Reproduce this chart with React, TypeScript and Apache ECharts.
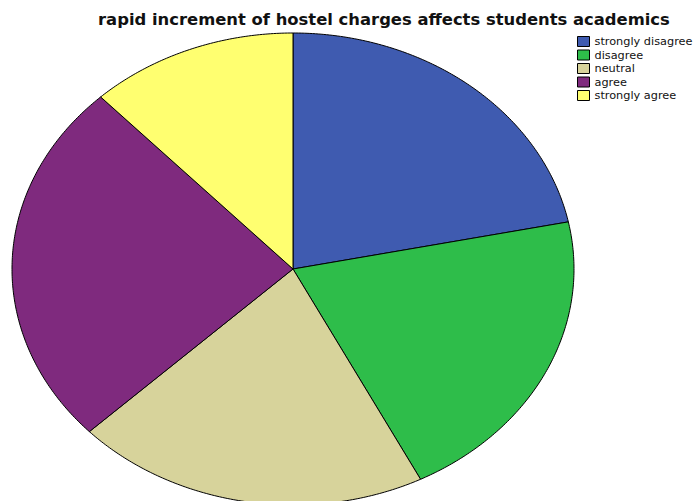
import React, { useEffect, useRef } from "react";
import * as echarts from "echarts";

const categories = ["strongly disagree", "disagree", "neutral", "agree", "strongly agree"];
const values = [21.8, 20.7, 20.4, 25.1, 12.0];
const colors = ["#3f5bb0", "#2ebd4a", "#d7d39b", "#7f2a7e", "#ffff70"];
const titleText = "rapid increment of hostel charges affects students academics";

export default function App() {
  const ref = useRef<HTMLDivElement>(null);
  useEffect(() => {
    if (!ref.current) return;
    const chart = echarts.init(ref.current, undefined, { renderer: "svg" });
    const total = values.reduce((a, b) => a + b, 0);
    const cx = 293, cy = 269, rx = 281, ry = 236;
    const starts: number[] = [];
    let acc = 0;
    values.forEach((v) => { starts.push(acc); acc += v; });

    const series = categories.map((name, i) => ({
      type: "custom",
      name,
      coordinateSystem: "none",
      itemStyle: { color: colors[i] },
      data: [[values[i]]],
      renderItem: (params: any, api: any) => {
        const v = api.value(0);
        const a0 = (starts[i] / total) * Math.PI * 2;
        const a1 = a0 + (v / total) * Math.PI * 2;
        const n = Math.max(4, Math.ceil((a1 - a0) / 0.01));
        const pts: number[][] = [[cx, cy]];
        for (let k = 0; k <= n; k++) {
          const t = a0 + ((a1 - a0) * k) / n;
          pts.push([cx + rx * Math.sin(t), cy - ry * Math.cos(t)]);
        }
        return {
          type: "polygon",
          shape: { points: pts },
          style: { fill: colors[i], stroke: "#000", lineWidth: 1 },
        };
      },
    }));

    chart.setOption({
      animation: false,
      backgroundColor: "#ffffff",
      title: {
        text: titleText,
        left: 98,
        top: 11,
        padding: 0,
        textStyle: { fontSize: 16.4, fontWeight: "bold", color: "#111", fontFamily: "DejaVu Sans, Verdana, sans-serif" },
      },
      legend: {
        orient: "vertical",
        left: 577,
        top: 36,
        padding: 0,
        itemWidth: 12,
        itemHeight: 10,
        itemGap: 2.5,
        icon: "rect",
        itemStyle: { borderColor: "#000", borderWidth: 1 },
        textStyle: { fontSize: 11.3, color: "#111", fontFamily: "DejaVu Sans, Verdana, sans-serif" },
        data: categories,
      },
      series,
    } as any);
    return () => chart.dispose();
  }, []);
  return <div ref={ref} style={{ position: "fixed", left: 0, top: 0, width: 697, height: 501 }} />;
}
